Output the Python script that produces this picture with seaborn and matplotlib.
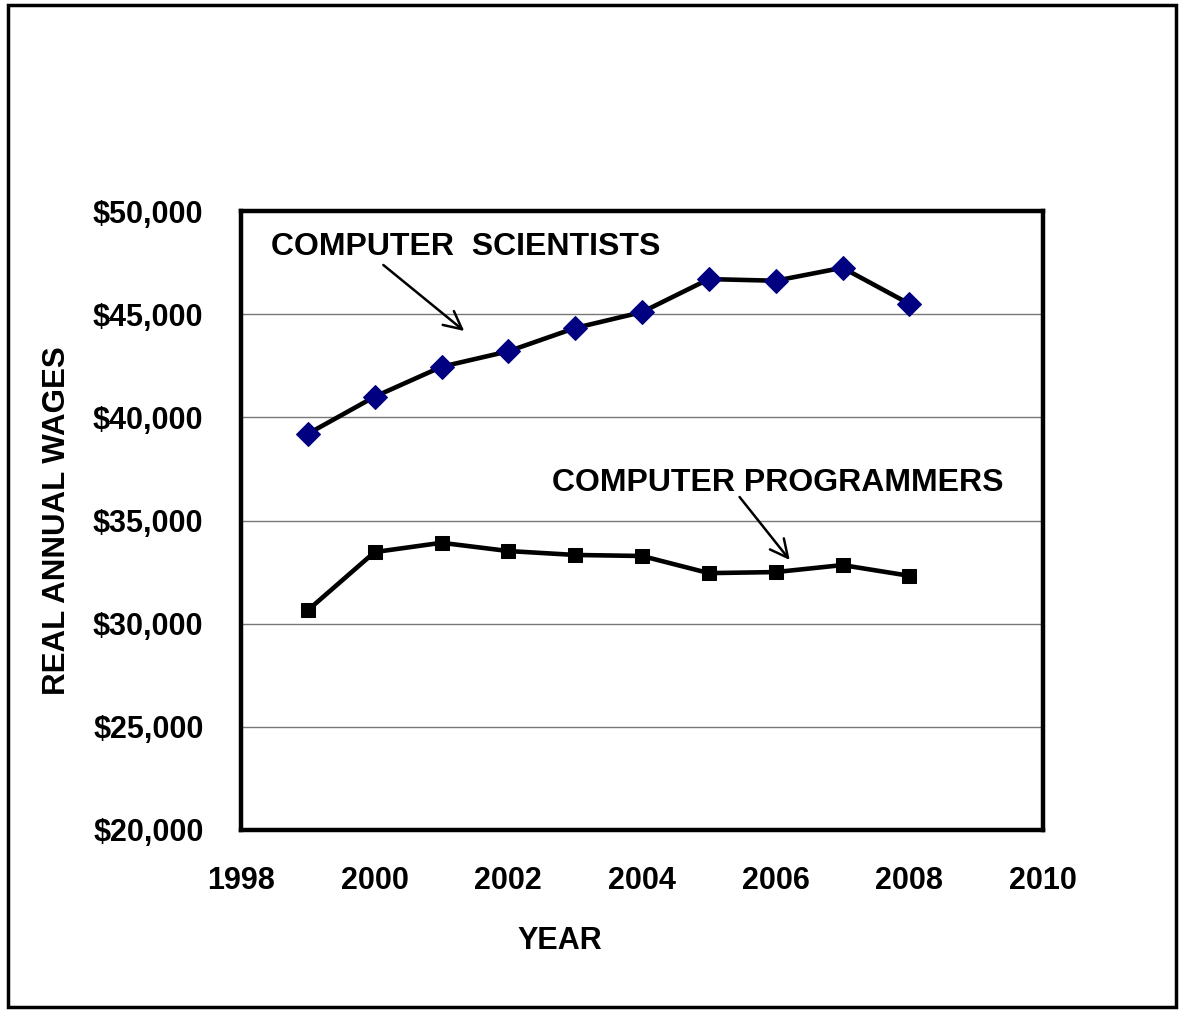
import matplotlib
matplotlib.use("Agg")
import matplotlib.pyplot as plt
import seaborn as sns
import pandas as pd
from matplotlib.ticker import FuncFormatter
from matplotlib.patches import Rectangle

years = [1999, 2000, 2001, 2002, 2003, 2004, 2005, 2006, 2007, 2008]
scientists = [39200, 41000, 42450, 43200, 44330, 45100, 46700, 46620, 47250, 45500]
programmers = [30650, 33470, 33920, 33520, 33330, 33280, 32450, 32500, 32840, 32320]
x_ticks = [1998, 2000, 2002, 2004, 2006, 2008, 2010]
y_ticks = [20000, 25000, 30000, 35000, 40000, 45000, 50000]

sns.set_theme(style="white")
plt.rcParams['font.family'] = ['Liberation Sans', 'DejaVu Sans']
plt.rcParams['font.weight'] = 'bold'
plt.rcParams['text.color'] = 'black'
plt.rcParams['axes.labelcolor'] = 'black'
plt.rcParams['xtick.color'] = 'black'
plt.rcParams['ytick.color'] = 'black'

fig = plt.figure(figsize=(11.84, 10.11), dpi=100)
left, right, top, bottom = 241 / 1184, 1043 / 1184, 1 - 211 / 1011, 1 - 830 / 1011
ax = fig.add_axes([left, bottom, right - left, top - bottom])

df_s = pd.DataFrame({"year": years, "wage": scientists})
df_p = pd.DataFrame({"year": years, "wage": programmers})

sns.lineplot(data=df_s, x="year", y="wage", ax=ax, color="black", linewidth=3.3,
             marker="D", markersize=12, markerfacecolor="#000080", markeredgecolor="#000080",
             zorder=3)
sns.lineplot(data=df_p, x="year", y="wage", ax=ax, color="black", linewidth=3.3,
             marker="s", markersize=10, markerfacecolor="black", markeredgecolor="black",
             zorder=3)

ax.set_xlim(1998, 2010)
ax.set_ylim(20000, 50000)
ax.set_xticks(x_ticks)
ax.set_yticks(y_ticks)
ax.yaxis.set_major_formatter(FuncFormatter(lambda v, p: "${:,.0f}".format(v)))
ax.grid(axis="y", color="#777777", linewidth=1.0)
ax.grid(axis="x", visible=False)
ax.set_axisbelow(True)
for s in ax.spines.values():
    s.set_visible(True)
    s.set_color("black")
    s.set_linewidth(3.2)
ax.tick_params(axis="both", which="major", direction="out", length=7, width=1,
               color="#888888", labelcolor="black", labelsize=22)
ax.tick_params(axis="y", pad=20)
ax.tick_params(axis="x", pad=19)
for lbl in ax.get_xticklabels() + ax.get_yticklabels():
    lbl.set_fontweight("bold")

ax.set_xlabel("YEAR", fontsize=22, fontweight="bold")
ax.set_ylabel("REAL ANNUAL WAGES", fontsize=22.5, fontweight="bold")
ax.xaxis.set_label_coords(0.397, -0.155)
ax.yaxis.set_label_coords(-0.211, 0.5)

ax.text(1998.45, 48250, "COMPUTER  SCIENTISTS", fontsize=23, fontweight="bold",
        ha="left", va="center", color="black")
ax.annotate("", xy=(2001.34, 44184), xytext=(2000.13, 47383),
            arrowprops=dict(arrowstyle="->", color="black", lw=1.8,
                            mutation_scale=32, shrinkA=0, shrinkB=0))
ax.text(2002.66, 36800, "COMPUTER PROGRAMMERS", fontsize=23, fontweight="bold",
        ha="left", va="center", color="black")
ax.annotate("", xy=(2006.21, 33086), xytext=(2005.46, 36139),
            arrowprops=dict(arrowstyle="->", color="black", lw=1.8,
                            mutation_scale=32, shrinkA=0, shrinkB=0))

fig.patches.append(Rectangle((0.007, 0.004), 0.986, 0.991, transform=fig.transFigure,
                             fill=False, edgecolor="black", linewidth=2.5))

fig.savefig("out.png", dpi=100)
